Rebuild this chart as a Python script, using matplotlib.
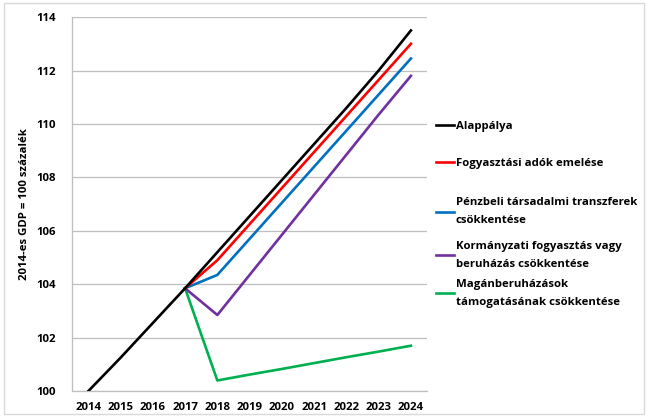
import matplotlib.pyplot as plt
from matplotlib.patches import Rectangle

# =========================
# Data
# =========================
years = list(range(2014, 2025))
years_after = list(range(2017, 2025))

alap = [100.0, 101.25, 102.55, 103.85, 105.2, 106.55, 107.9, 109.25, 110.6, 112.0, 113.5]
fogy_ado = [103.85, 104.9, 106.25, 107.6, 108.95, 110.3, 111.65, 113.0]
transzfer = [103.85, 104.35, 105.7, 107.05, 108.4, 109.75, 111.1, 112.45]
kormanyzati = [103.85, 102.85, 104.35, 105.85, 107.35, 108.85, 110.35, 111.8]
maganber = [103.85, 100.4, 100.62, 100.83, 101.05, 101.27, 101.48, 101.7]

labels = [
    "Alappálya",
    "Fogyasztási adók emelése",
    "Pénzbeli társadalmi transzferek\ncsökkentése",
    "Kormányzati fogyasztás vagy\nberuházás csökkentése",
    "Magánberuházások\ntámogatásának csökkentése",
]
colors = ["#000000", "#ff0000", "#0070c0", "#7030a0", "#00b050"]

plt.rcParams["font.family"] = ["Open Sans", "DejaVu Sans"]

fig = plt.figure(figsize=(6.5, 4.17), dpi=100)
ax = fig.add_axes([0.111, 0.062, 0.546, 0.897])

series = [(years, alap), (years_after, fogy_ado), (years_after, transzfer),
          (years_after, kormanyzati), (years_after, maganber)]
lines = [None] * len(series)
# baseline on top so it covers the others at the 2017 junction
for i in [4, 3, 2, 1, 0]:
    x, y = series[i]
    lines[i], = ax.plot(x, y, color=colors[i], linewidth=1.9, zorder=3 + (4 - i))

ax.set_xlim(2013.5, 2024.5)
ax.set_ylim(100, 114)
ax.set_xticks(years)
ax.set_yticks(range(100, 115, 2))
ax.tick_params(axis="both", length=0, labelsize=8.2)
ax.tick_params(axis="x", pad=8)
ax.tick_params(axis="y", pad=12)
for lbl in ax.get_xticklabels() + ax.get_yticklabels():
    lbl.set_fontweight("bold")

ax.grid(axis="y", color="#bfbfbf", linewidth=0.9)
ax.set_axisbelow(True)
for side in ["top", "right"]:
    ax.spines[side].set_visible(False)
for side in ["left", "bottom"]:
    ax.spines[side].set_color("#bfbfbf")
    ax.spines[side].set_linewidth(0.9)

ax.set_ylabel("2014-es GDP = 100 százalék", fontsize=8.2, fontweight="bold", labelpad=4)

# one legend box per entry, stacked at the right of the plot
legend_tops = [0.709, 0.620, 0.527, 0.422, 0.331]
for i, top in enumerate(legend_tops):
    leg = fig.legend([lines[i]], [labels[i]], loc="upper left",
                     bbox_to_anchor=(0.671, top), frameon=False,
                     fontsize=8.2, handlelength=1.55, handletextpad=0.15,
                     borderaxespad=0, borderpad=0)
    for t in leg.get_texts():
        t.set_fontweight("bold")
        t.set_linespacing(1.85)

# light frame around the whole chart
fig.patches.append(Rectangle((0.006, 0.007), 0.984, 0.986, transform=fig.transFigure,
                             fill=False, edgecolor="#d9d9d9", linewidth=1.0))

plt.savefig("out.png", dpi=100)
plt.close()
